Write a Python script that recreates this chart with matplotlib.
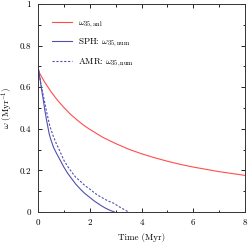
import numpy as np
import matplotlib
matplotlib.use('Agg')
import matplotlib.pyplot as plt
from matplotlib.ticker import MultipleLocator

plt.rcParams['font.family'] = 'serif'
plt.rcParams['font.serif'] = ['cmr10', 'DejaVu Serif']
plt.rcParams['mathtext.fontset'] = 'cm'
plt.rcParams['axes.formatter.use_mathtext'] = True

# analytic omega_35 (red)
t_anl = [0, 0.25, 0.5, 0.75, 1, 1.25, 1.5, 1.75, 2, 2.5, 3, 3.5, 4, 4.5, 5, 5.5, 6, 6.5, 7, 7.5, 8]
w_anl = [0.68, 0.625, 0.578, 0.537, 0.502, 0.47, 0.443, 0.418, 0.397, 0.359, 0.329, 0.302,
         0.28, 0.261, 0.244, 0.229, 0.216, 0.205, 0.194, 0.185, 0.176]

# SPH numerical omega_35 (blue solid)
t_sph = [0, 0.04, 0.08, 0.14, 0.2, 0.26, 0.33, 0.43, 0.5, 0.6, 0.7, 0.85, 1.0, 1.15, 1.3,
         1.45, 1.65, 1.8, 2.0, 2.15, 2.29, 2.45, 2.6, 2.75, 2.95]
w_sph = [0.70, 0.665, 0.635, 0.585, 0.54, 0.49, 0.44, 0.375, 0.345, 0.31, 0.285, 0.25, 0.215,
         0.185, 0.16, 0.135, 0.108, 0.09, 0.07, 0.055, 0.043, 0.03, 0.019, 0.01, 0.0]

# AMR numerical omega_35 (blue dashed)
t_amr = [0, 0.05, 0.1, 0.2, 0.35, 0.45, 0.57, 0.7, 0.85, 1.0, 1.15, 1.3, 1.45, 1.65, 1.8,
         2.0, 2.15, 2.29, 2.45, 2.6, 2.75, 2.93, 3.1, 3.3, 3.5]
w_amr = [0.70, 0.66, 0.62, 0.56, 0.47, 0.415, 0.37, 0.33, 0.29, 0.248, 0.218, 0.192, 0.168,
         0.146, 0.128, 0.11, 0.095, 0.082, 0.071, 0.06, 0.051, 0.042, 0.028, 0.014, 0.0]

red = '#ff4d4d'
blue = '#5050b0'

fig = plt.figure(figsize=(2.49, 2.44), dpi=100)
ax = fig.add_axes([0.153, 0.131, 0.831, 0.853])

ax.plot(t_anl, w_anl, color=red, lw=0.8, label=r'$\omega_{35,\mathrm{anl}}$')
ax.plot(t_sph, w_sph, color=blue, lw=0.8, label=r'SPH: $\omega_{35,\mathrm{num}}$')
ax.plot(t_amr, w_amr, color=blue, lw=0.8, ls=(0, (2, 1.5)), label=r'AMR: $\omega_{35,\mathrm{num}}$')

ax.set_xlim(0, 8)
ax.set_ylim(0, 1)
ax.xaxis.set_major_locator(MultipleLocator(2))
ax.xaxis.set_minor_locator(MultipleLocator(1))
ax.yaxis.set_major_locator(MultipleLocator(0.2))
ax.yaxis.set_minor_locator(MultipleLocator(0.1))
ax.xaxis.set_major_formatter(plt.FuncFormatter(lambda v, p: '%g' % v))
ax.yaxis.set_major_formatter(plt.FuncFormatter(lambda v, p: '%g' % v))
ax.tick_params(which='both', direction='in', top=True, right=True, labelsize=6.5, width=0.6, pad=5)
ax.tick_params(which='major', length=3)
ax.tick_params(which='minor', length=1.8)
for s in ax.spines.values():
    s.set_linewidth(0.7)
    s.set_color('#333333')

ax.set_xlabel('Time (Myr)', fontsize=6.5, labelpad=4)
ax.set_ylabel(r'$\omega$ (Myr$^{-1}$)', fontsize=6.5, labelpad=3)

ax.legend(loc='upper left', bbox_to_anchor=(0.03, 0.97), frameon=False, fontsize=6.5,
          handlelength=2.2, handletextpad=0.6, labelspacing=0.75)

fig.savefig('out.png', dpi=100)
